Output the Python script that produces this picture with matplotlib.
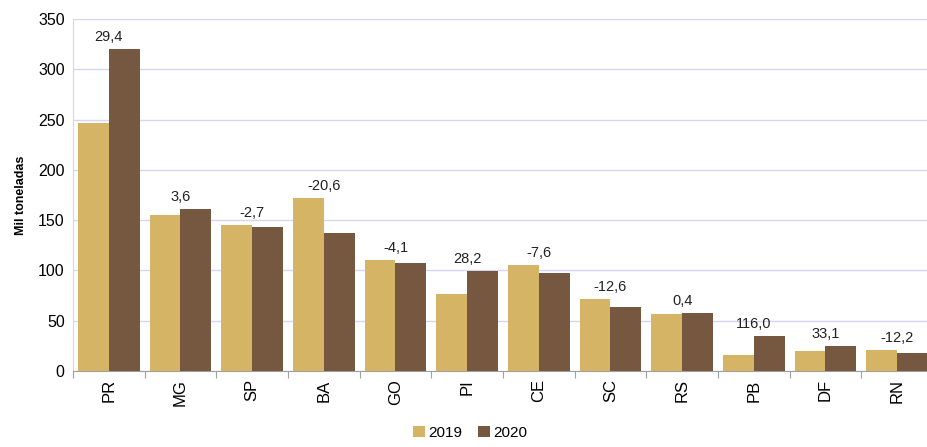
import matplotlib
matplotlib.use("Agg")
import matplotlib.pyplot as plt
import numpy as np

categories = ["PR", "MG", "SP", "BA", "GO", "PI", "CE", "SC", "RS", "PB", "DF", "RN"]
values_2019 = [247, 155, 145, 172, 110, 77, 105, 72, 57, 16, 20, 21]
values_2020 = [320, 161, 143, 137, 107, 99, 97, 64, 58, 35, 25, 18]
change_labels = ["29,4", "3,6", "-2,7", "-20,6", "-4,1", "28,2", "-7,6", "-12,6", "0,4", "116,0", "33,1", "-12,2"]

c2019 = "#D6B466"
c2020 = "#765840"

plt.rcParams['font.family'] = ['Liberation Sans', 'DejaVu Sans']

fig = plt.figure(figsize=(9.28, 4.47), dpi=100)
ax = fig.add_axes([73/928, (447-371)/447, 860/928, 352/447])

x = np.arange(len(categories))
w = 0.43
ax.bar(x - w/2, values_2019, w, color=c2019, label="2019", zorder=3)
ax.bar(x + w/2, values_2020, w, color=c2020, label="2020", zorder=3)

for i, lab in enumerate(change_labels):
    top = max(values_2019[i], values_2020[i])
    ax.text(x[i], top + 5, lab, ha="center", va="bottom", fontsize=10.5, color="#222222")

ax.set_xlim(-0.5, len(categories) - 0.5)
ax.set_ylim(0, 350)
ax.set_yticks(np.arange(0, 351, 50))
ax.yaxis.grid(True, color="#D6D6F4", linewidth=1, zorder=0)
ax.set_axisbelow(True)

ax.set_xticks(np.arange(-0.5, len(categories), 1), minor=False)
ax.set_xticklabels([])
ax.set_xticks(x, minor=True)
ax.set_xticklabels(categories, minor=True, rotation=90, fontsize=12)
ax.tick_params(axis="x", which="minor", length=0, pad=6)
ax.tick_params(axis="x", which="major", length=5, color="#A0A0A0", direction="out")
ax.tick_params(axis="y", length=0, labelsize=11.5, pad=6)

for s in ["top", "right"]:
    ax.spines[s].set_visible(False)
ax.spines["left"].set_color("#D6D6F4")
ax.spines["bottom"].set_color("#A0A0A0")

ax.set_ylabel("Mil toneladas", fontsize=9, fontweight="bold", labelpad=8)

fig.legend(loc="lower center", bbox_to_anchor=(470/928, -0.015), ncol=2, frameon=False,
           fontsize=11, handlelength=0.8, handleheight=0.8, handletextpad=0.2, columnspacing=1.0)

fig.savefig("out.png", dpi=100)
